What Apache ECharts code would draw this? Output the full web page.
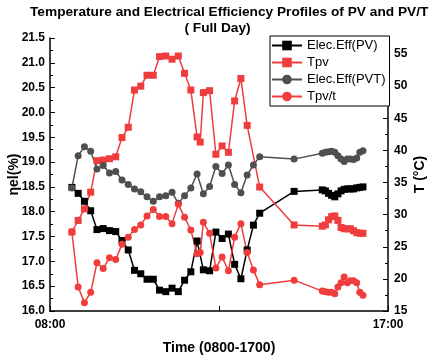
<!DOCTYPE html>
<html>
<head>
<meta charset="utf-8">
<script src="https://cdn.jsdelivr.net/npm/echarts@6/dist/echarts.min.js"></script>
<style>
  html, body { margin: 0; padding: 0; background: #fff; }
  #chart { width: 435px; height: 361px; }
</style>
</head>
<body>
<div id="chart"></div>
<script>
// efficiency readings (PV and PV/T)
var effTimes = ['08:35','08:45','08:55','09:05','09:15','09:25','09:35','09:45','09:55','10:05',
  '10:15','10:25','10:35','10:45','10:55','11:05','11:15','11:25','11:35','11:45',
  '11:55','12:05','12:15','12:25','12:35','12:45','12:55','13:05','13:15','13:25',
  '13:35','14:30','15:15','15:20','15:25','15:30','15:35','15:40','15:45','15:50',
  '15:55','16:00','16:05','16:10','16:15','16:20'];
var elecEffPV = [18.49, 18.37, 18.21, 18.02, 17.64, 17.66, 17.62, 17.60, 17.42, 17.23,
  16.82, 16.75, 16.64, 16.64, 16.42, 16.39, 16.46, 16.39, 16.62, 16.79,
  17.41, 16.83, 16.81, 17.59, 17.46, 17.55, 16.94, 16.65, 17.23, 17.73,
  17.97, 18.41, 18.44, 18.42, 18.37, 18.33, 18.30, 18.36, 18.42, 18.45,
  18.46, 18.46, 18.46, 18.48, 18.49, 18.50];
var elecEffPVT = [18.48, 19.13, 19.31, 19.22, 18.86, 18.93, 18.78, 18.81, 18.64, 18.55,
  18.46, 18.40, 18.30, 18.21, 18.30, 18.32, 18.39, 18.17, 18.32, 18.48,
  18.76, 18.36, 18.51, 18.91, 18.77, 18.94, 18.55, 18.38, 18.74, 18.94,
  19.11, 19.06, 19.18, 19.20, 19.21, 19.22, 19.20, 19.13, 19.06, 19.01,
  19.06, 19.06, 19.05, 19.08, 19.20, 19.23];

// temperature readings (one extra sample at 12:00)
var tempTimes = ['08:35','08:45','08:55','09:05','09:15','09:25','09:35','09:45','09:55','10:05',
  '10:15','10:25','10:35','10:45','10:55','11:05','11:15','11:25','11:35','11:45',
  '11:55','12:00','12:05','12:15','12:25','12:35','12:45','12:55','13:05','13:15',
  '13:25','13:35','14:30','15:15','15:20','15:25','15:30','15:35','15:40','15:45',
  '15:50','15:55','16:00','16:05','16:10','16:15','16:20'];
var tpv = [27.3, 29.1, 30.9, 33.5, 38.4, 38.5, 38.7, 39.0, 42.0, 43.6,
  49.4, 50.0, 51.7, 51.7, 54.6, 54.7, 54.2, 54.7, 52.0, 49.4,
  42.1, 41.3, 49.0, 49.3, 39.4, 40.7, 39.7, 47.7, 51.2, 43.9,
  null, 34.3, 28.4, 28.2, 28.4, 29.2, 29.7, 29.8, 29.1, 28.0,
  27.8, 27.8, 27.8, 27.5, 27.2, 27.1, 27.1];
var tpvT = [27.3, 18.75, 16.3, 17.9, 22.5, 21.6, 23.3, 23.0, 25.4, 26.5,
  27.7, 28.4, 29.8, 30.8, 29.7, 29.7, 28.6, 31.6, 29.6, 27.6,
  23.9, 24.1, 28.8, 27.1, 21.7, 23.4, 21.25, 26.5, 28.6, 24.1,
  21.4, 19.1, 19.8, 18.1, 18.0, 17.9, 17.9, 17.7, 18.75, 19.4,
  20.3, 19.4, 19.7, 19.7, 19.4, 17.9, 17.45];

var xTickLabels = ['08:00', '17:00'];

var RED = '#ef3d3d';
var GRAY = '#4f4f4f';
var FONT = 'Liberation Sans';

function toMin(t) {
  var p = t.split(':');
  return parseInt(p[0], 10) * 60 + parseInt(p[1], 10);
}

function fmtTime(m) {
  var h = Math.floor(m / 60), mm = m % 60;
  return (h < 10 ? '0' : '') + h + ':' + (mm < 10 ? '0' : '') + mm;
}

// build [minutes, value] pairs, skip missing readings
function pairs(times, vals) {
  var out = [];
  for (var i = 0; i < times.length; i++) {
    if (vals[i] == null) continue;
    out.push([toMin(times[i]), vals[i]]);
  }
  return out;
}

function lineSeries(name, data, color, symbol, yIdx) {
  return {
    name: name,
    type: 'line',
    yAxisIndex: yIdx,
    data: data,
    symbol: symbol,
    symbolSize: 7,
    showAllSymbol: true,
    lineStyle: { color: color, width: 1.5 },
    itemStyle: { color: color },
    emphasis: { disabled: true },
    animation: false
  };
}

var titleFont = { fontFamily: FONT, fontSize: 13.7, fontWeight: 'bold', color: '#000' };

var chart = echarts.init(document.getElementById('chart'));

var option = {
  backgroundColor: '#fff',
  title: [{
    text: 'Temperature and Electrical Efficiency Profiles of PV and PV/T',
    left: 30,
    top: 5,
    padding: 0,
    textStyle: titleFont
  }, {
    text: '( Full Day)',
    left: 'center',
    top: 21,
    padding: 0,
    textStyle: titleFont
  }],
  legend: {
    orient: 'vertical',
    left: 270,
    top: 36,
    padding: [3, 4, 3, 1],
    itemWidth: 30,
    itemHeight: 12,
    itemGap: 4,
    borderColor: '#000',
    borderWidth: 1,
    backgroundColor: '#fff',
    textStyle: { fontFamily: FONT, fontSize: 13, color: '#000' },
    data: ['Elec.Eff(PV)', 'Tpv', 'Elec.Eff(PVT)', 'Tpv/t']
  },
  grid: { left: 50, right: 47, top: 38, bottom: 50, outerBoundsMode: 'none', containLabel: false },
  xAxis: {
    type: 'value',
    min: toMin(xTickLabels[0]),
    max: toMin(xTickLabels[1]),
    interval: 540,
    name: 'Time (0800-1700)',
    nameLocation: 'middle',
    nameGap: 30,
    nameMoveOverlap: false,
    nameTextStyle: { fontFamily: FONT, fontSize: 14, fontWeight: 'bold', color: '#000' },
    axisLine: { lineStyle: { color: '#000', width: 1.5 } },
    axisTick: { inside: true, length: 5, lineStyle: { color: '#000' } },
    minorTick: { show: true, splitNumber: 2, length: 5, lineStyle: { color: '#000' } },
    splitLine: { show: false },
    axisLabel: {
      fontFamily: FONT, fontSize: 12, fontWeight: 'bold', color: '#000', margin: 8,
      formatter: function (v) { return fmtTime(v); }
    }
  },
  yAxis: [{
    type: 'value',
    min: 16,
    max: 21.5,
    interval: 0.5,
    name: 'ηel(%)',
    nameLocation: 'middle',
    nameGap: 29,
    nameMoveOverlap: false,
    nameTextStyle: { fontFamily: FONT, fontSize: 14, fontWeight: 'bold', color: '#000' },
    axisLine: { show: true, lineStyle: { color: '#000', width: 1.5 } },
    axisTick: { show: true, inside: true, length: 5, lineStyle: { color: '#000' } },
    minorTick: { show: true, splitNumber: 2, length: 3, lineStyle: { color: '#000' } },
    splitLine: { show: false },
    axisLabel: {
      fontFamily: FONT, fontSize: 12, fontWeight: 'bold', color: '#000', margin: 5,
      formatter: function (v) { return v.toFixed(1); }
    }
  }, {
    type: 'value',
    position: 'right',
    min: 15,
    max: 57.5,
    interval: 5,
    name: 'T (°C)',
    nameLocation: 'middle',
    nameGap: 25,
    nameMoveOverlap: false,
    nameTextStyle: { fontFamily: FONT, fontSize: 14, fontWeight: 'bold', color: '#000' },
    axisLine: { show: true, lineStyle: { color: '#000', width: 1.5 } },
    axisTick: { show: true, inside: true, length: 5, lineStyle: { color: '#000' } },
    minorTick: { show: true, splitNumber: 2, length: 3, lineStyle: { color: '#000' } },
    splitLine: { show: false },
    axisLabel: {
      fontFamily: FONT, fontSize: 12, fontWeight: 'bold', color: '#000', margin: 6,
      showMaxLabel: false
    }
  }],
  series: [
    lineSeries('Elec.Eff(PV)', pairs(effTimes, elecEffPV), '#000', 'rect', 0),
    lineSeries('Tpv', pairs(tempTimes, tpv), RED, 'rect', 1),
    lineSeries('Elec.Eff(PVT)', pairs(effTimes, elecEffPVT), GRAY, 'circle', 0),
    lineSeries('Tpv/t', pairs(tempTimes, tpvT), RED, 'circle', 1)
  ]
};

chart.setOption(option);
</script>
</body>
</html>
